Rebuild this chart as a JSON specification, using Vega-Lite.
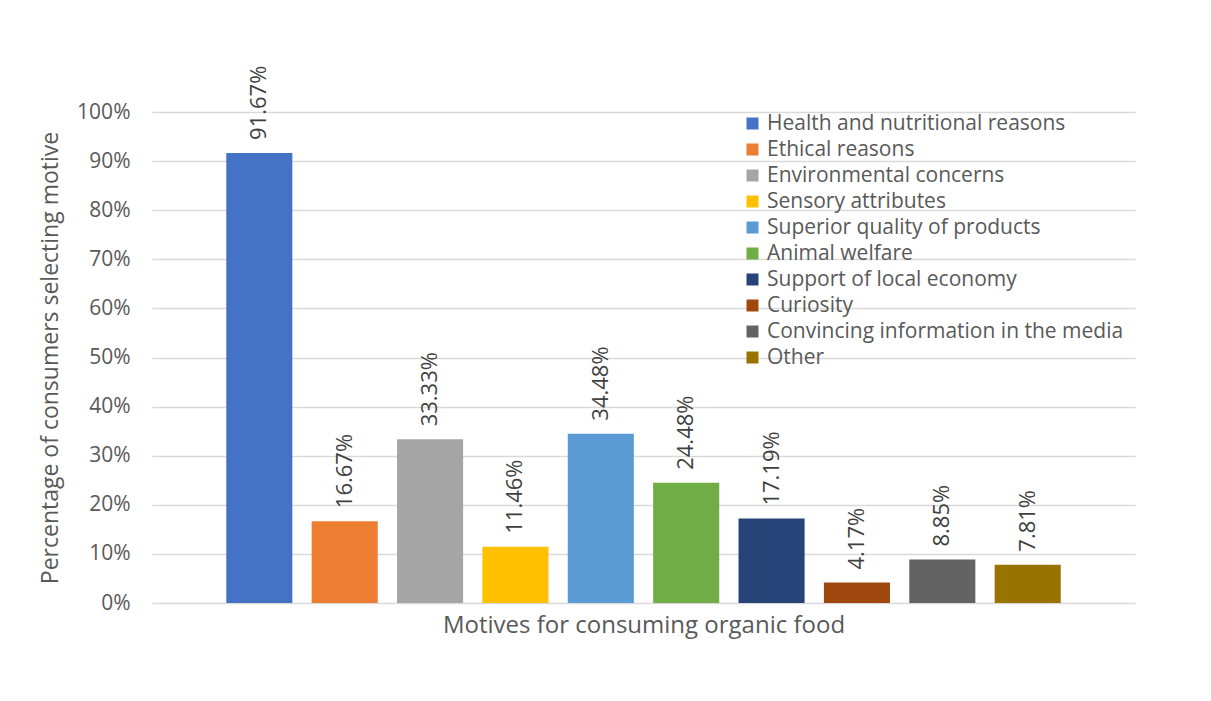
{
  "$schema": "https://vega.github.io/schema/vega-lite/v6.json",
  "autosize": {"type": "none"},
  "padding": {"left": 152, "top": 112, "right": 76, "bottom": 98},
  "width": 983,
  "height": 491,
  "background": "#ffffff",
  "data": {
    "values": [
      {"motive": "Health and nutritional reasons", "share": 0.9167},
      {"motive": "Ethical reasons", "share": 0.1667},
      {"motive": "Environmental concerns", "share": 0.3333},
      {"motive": "Sensory attributes", "share": 0.1146},
      {"motive": "Superior quality of products", "share": 0.3448},
      {"motive": "Animal welfare", "share": 0.2448},
      {"motive": "Support of local economy", "share": 0.1719},
      {"motive": "Curiosity", "share": 0.0417},
      {"motive": "Convincing information in the media", "share": 0.0885},
      {"motive": "Other", "share": 0.0781}
    ]
  },
  "encoding": {
    "x": {
      "field": "motive",
      "type": "nominal",
      "sort": null,
      "scale": {"paddingInner": 0.226, "paddingOuter": 0.87},
      "axis": {
        "title": "Motives for consuming organic food",
        "labels": false,
        "ticks": false,
        "domain": false,
        "titleFont": "Open Sans",
        "titleFontSize": 24,
        "titleFontWeight": "normal",
        "titleColor": "#595959",
        "titlePadding": 10
      }
    },
    "y": {
      "field": "share",
      "type": "quantitative",
      "scale": {"domain": [0, 1], "nice": false},
      "axis": {
        "title": "Percentage of consumers selecting motive",
        "values": [0, 0.1, 0.2, 0.3, 0.4, 0.5, 0.6, 0.7, 0.8, 0.9, 1],
        "format": ".0%",
        "ticks": false,
        "domain": false,
        "grid": true,
        "gridColor": "#d9d9d9",
        "gridWidth": 1.5,
        "labelFont": "Open Sans",
        "labelFontSize": 21,
        "labelColor": "#595959",
        "labelPadding": 22,
        "titleFont": "Open Sans",
        "titleFontSize": 23,
        "titleFontWeight": "normal",
        "titleColor": "#595959",
        "titlePadding": 14
      }
    }
  },
  "layer": [
    {
      "mark": {"type": "bar"},
      "encoding": {
        "color": {
          "field": "motive",
          "type": "nominal",
          "sort": null,
          "scale": {
            "range": ["#4472C4", "#ED7D31", "#A5A5A5", "#FFC000", "#5B9BD5", "#70AD47", "#264478", "#9E480E", "#636363", "#997300"]
          },
          "legend": {
            "title": null,
            "orient": "none",
            "legendX": 590,
            "legendY": 1,
            "symbolType": "square",
            "symbolSize": 144,
            "symbolStrokeWidth": 0,
            "labelFont": "Open Sans",
            "labelFontSize": 21,
            "labelColor": "#595959",
            "labelOffset": 4,
            "labelLimit": 500,
            "rowPadding": 4
          }
        }
      }
    },
    {
      "mark": {
        "type": "text",
        "angle": 270,
        "align": "left",
        "baseline": "middle",
        "dx": 13,
        "font": "Open Sans",
        "fontSize": 22,
        "color": "#404040"
      },
      "encoding": {
        "text": {"field": "share", "type": "quantitative", "format": ".2%"}
      }
    }
  ],
  "config": {
    "view": {"stroke": null}
  }
}
